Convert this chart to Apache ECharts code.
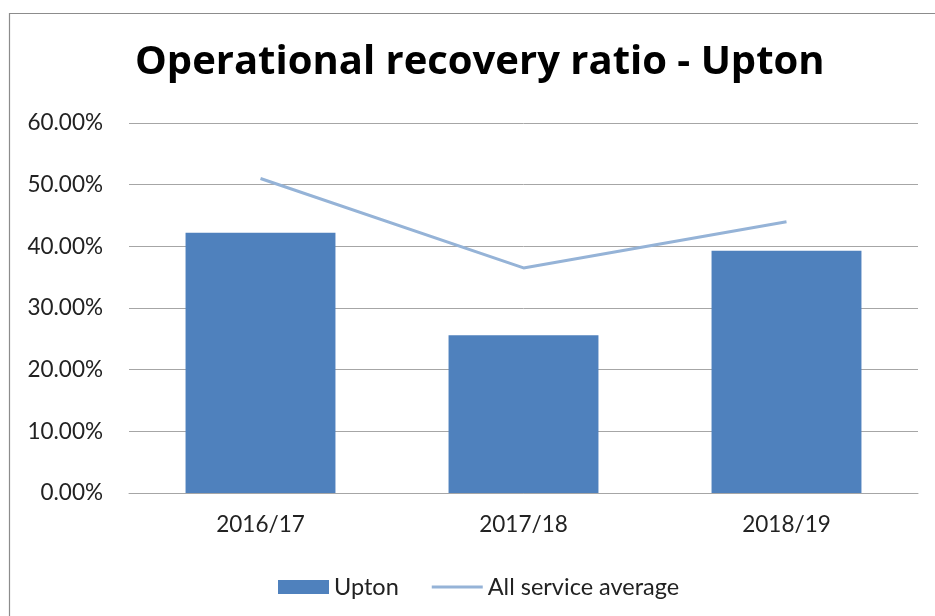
<!DOCTYPE html>
<html>
<head>
<meta charset="utf-8">
<script src="https://cdn.jsdelivr.net/npm/echarts@6/dist/echarts.min.js"></script>
<style>
  html, body { margin: 0; padding: 0; background: #fff; }
  #chart { width: 935px; height: 616px; }
</style>
</head>
<body>
<div id="chart"></div>
<script>
var years = ['2016/17', '2017/18', '2018/19'];
var upton = [42.2, 25.6, 39.3];
var serviceAverage = [51.0, 36.5, 44.0];

var chart = echarts.init(document.getElementById('chart'));
var font = 'Lato, "Open Sans", sans-serif';

var option = {
  animation: false,
  backgroundColor: '#fff',
  graphic: [{
    type: 'rect',
    left: 7, top: 11,
    shape: { width: 960, height: 640 },
    style: { fill: 'none', stroke: '#8c8c8c', lineWidth: 1.2 }
  }],
  title: {
    text: 'Operational recovery ratio - Upton',
    left: 130,
    top: 38,
    textStyle: { fontFamily: '"Open Sans", sans-serif', fontSize: 40, fontWeight: 'bold', color: '#000' }
  },
  legend: {
    left: 273,
    top: 570,
    itemWidth: 51,
    itemHeight: 14,
    itemGap: 33,
    textStyle: { fontFamily: font, fontSize: 23.5, color: '#222' },
    data: [
      { name: 'Upton', icon: 'rect' },
      { name: 'All service average', icon: 'path://M0,0H51V3H0Z' }
    ]
  },
  grid: { left: 129, right: 17, top: 123, bottom: 123 },
  xAxis: {
    type: 'category',
    data: years,
    axisTick: { show: false },
    axisLine: { lineStyle: { color: '#a6a6a6' } },
    axisLabel: { fontFamily: font, fontSize: 22.5, color: '#222', margin: 20 }
  },
  yAxis: {
    type: 'value',
    min: 0, max: 60, interval: 10,
    axisLine: { show: false },
    axisTick: { show: false },
    splitLine: { lineStyle: { color: '#a6a6a6' } },
    axisLabel: {
      fontFamily: font, fontSize: 22.5, color: '#222', margin: 26,
      formatter: function (v) { return v.toFixed(2) + '%'; }
    }
  },
  series: [
    {
      name: 'Upton',
      type: 'bar',
      data: upton,
      barWidth: '57%',
      itemStyle: { color: '#4F81BD' }
    },
    {
      name: 'All service average',
      type: 'line',
      data: serviceAverage,
      symbol: 'none',
      lineStyle: { color: '#95B3D7', width: 3 },
      itemStyle: { color: '#95B3D7' }
    }
  ]
};

chart.setOption(option);
</script>
</body>
</html>
